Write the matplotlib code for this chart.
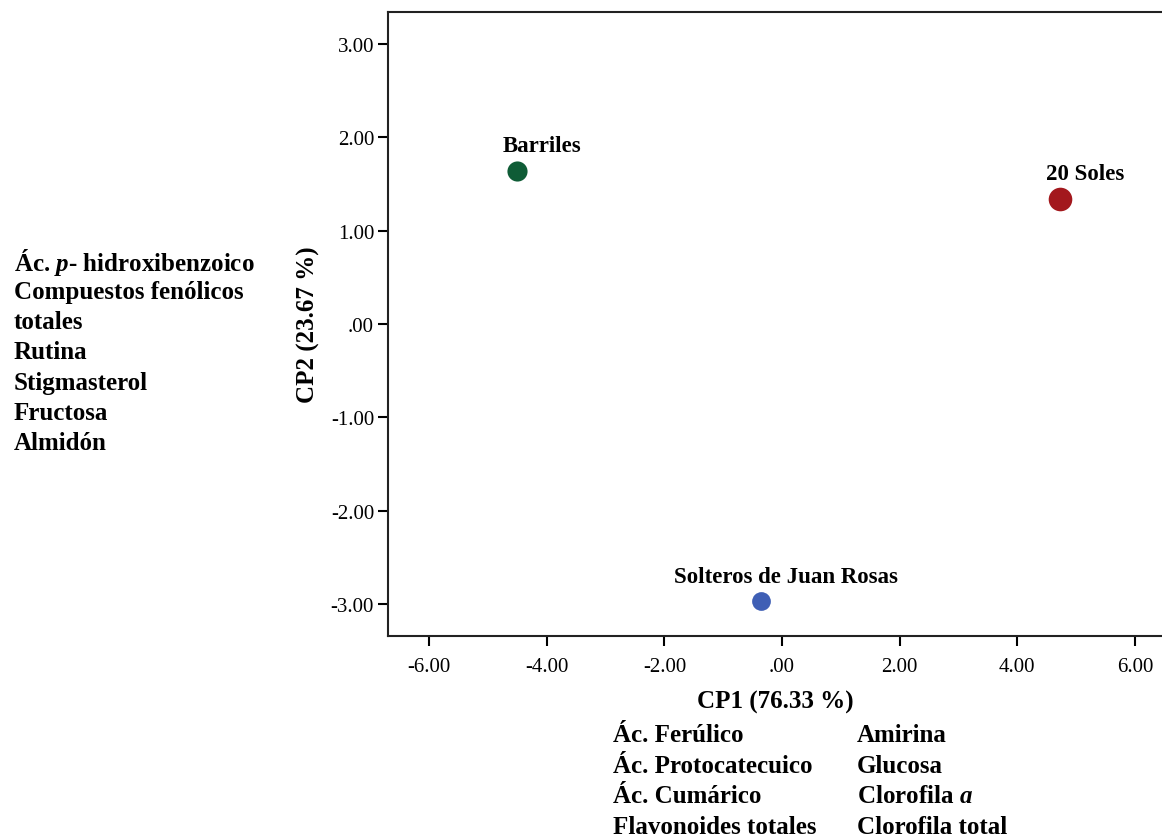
import matplotlib
matplotlib.use("Agg")
import matplotlib.pyplot as plt
from matplotlib.ticker import FuncFormatter, MultipleLocator

plt.rcParams['font.family'] = ['Liberation Serif', 'DejaVu Serif']
plt.rcParams['mathtext.fontset'] = 'custom'
plt.rcParams['mathtext.rm'] = 'Liberation Serif:bold'
plt.rcParams['mathtext.it'] = 'Liberation Serif:bold:italic'

# PCA scores (CP1, CP2)
names = ["Barriles", "20 Soles", "Solteros de Juan Rosas"]
cp1 = [-4.51, 4.73, -0.36]
cp2 = [1.64, 1.34, -2.97]
colors = ["#0f5c36", "#a3181d", "#3f5fb5"]
msizes = [14.5, 17.0, 13.5]

left_vars = [r"Ác. $\mathit{p}$- hidroxibenzoico", "Compuestos fenólicos", "totales",
             "Rutina", "Stigmasterol", "Fructosa", "Almidón"]
bottom_col1 = ["Ác. Ferúlico", "Ác. Protocatecuico", "Ác. Cumárico", "Flavonoides totales"]
bottom_col2 = ["Amirina", "Glucosa", r"Clorofila $\mathit{a}$", "Clorofila total"]

W, H = 1162, 837
fig = plt.figure(figsize=(W / 100, H / 100), dpi=100)
ax = fig.add_axes([388 / W, 1 - 637 / H, 1 - 388 / W, (637 - 13) / H])

for x, y, c, ms, n in zip(cp1, cp2, colors, msizes, names):
    ax.plot(x, y, 'o', color=c, markersize=ms, markeredgewidth=0, zorder=3)
    ax.annotate(n, (x, y), xytext=(18, 18), textcoords='offset points',
                ha='center', va='center', fontsize=16.5, fontweight='bold')

ax.set_xlim(-6.70, 6.46)
ax.set_ylim(-3.34, 3.34)
ax.xaxis.set_major_locator(MultipleLocator(2))
ax.yaxis.set_major_locator(MultipleLocator(1))


def fmt(v, pos):
    s = f"{v:.2f}"
    if s in ("0.00", "-0.00"):
        return ".00"
    return s


ax.xaxis.set_major_formatter(FuncFormatter(fmt))
ax.yaxis.set_major_formatter(FuncFormatter(fmt))
ax.tick_params(direction='out', length=7, width=1.5, labelsize=15)
ax.tick_params(axis='x', pad=8)
ax.tick_params(axis='y', pad=3)
for side in ('left', 'bottom', 'top'):
    ax.spines[side].set_linewidth(1.5)
    ax.spines[side].set_color('#222222')
ax.spines['right'].set_visible(False)

ax.set_xlabel("CP1 (76.33 %)", fontsize=18, fontweight='bold', labelpad=10)
ax.set_ylabel("CP2 (23.67 %)", fontsize=18, fontweight='bold', labelpad=8)

# variables associated with each component
for i, t in enumerate(left_vars):
    fig.text(14 / W, 1 - (262 + i * 30.3) / H, t, fontsize=18, fontweight='bold',
             ha='left', va='center')
for i, (a, b) in enumerate(zip(bottom_col1, bottom_col2)):
    yy = 1 - (736 + i * 30.5) / H
    fig.text(613 / W, yy, a, fontsize=18, fontweight='bold', ha='left', va='center')
    fig.text(857 / W, yy, b, fontsize=18, fontweight='bold', ha='left', va='center')

fig.savefig("out.png", dpi=100, facecolor='white')
